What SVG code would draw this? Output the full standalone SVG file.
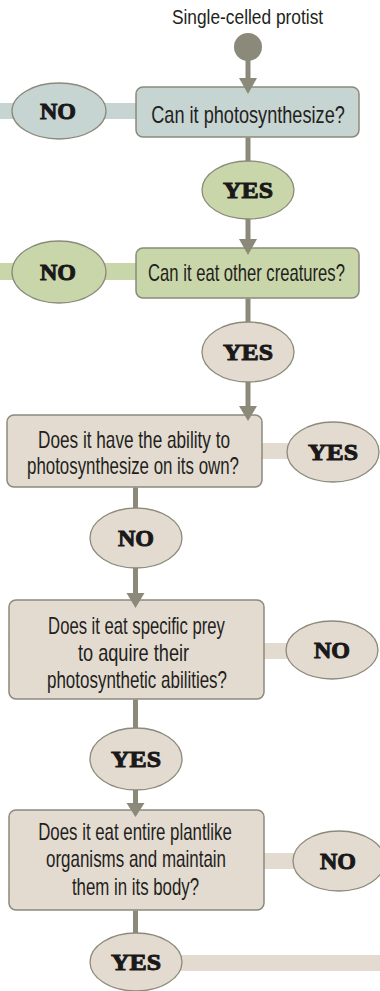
<svg xmlns="http://www.w3.org/2000/svg" width="380" height="991" viewBox="0 0 380 991">
<style>
.bg{fill:#ffffff}
.blue{fill:#c6d4d2}
.green{fill:#c9d6aa}
.beige{fill:#e3dbd0}
.box{stroke:#8b8a7b;stroke-width:1.5}
.ell{stroke:#8b8a7b;stroke-width:1.3}
.line{stroke:#8b8979;stroke-width:5;fill:none}
.head{fill:#8b8979}
.q{font-family:"Liberation Sans",Arial,sans-serif;font-size:23px;fill:#231f20;text-anchor:middle}
.t{font-size:21px}
.a{font-family:"Liberation Serif","Times New Roman",serif;font-weight:bold;font-size:24px;fill:#1a1818;stroke:#1a1818;stroke-width:1;text-anchor:middle}
</style>
<rect class="bg" x="0" y="0" width="380" height="991"/>
<g id="connector-bands">
<rect class="blue" x="0" y="103" width="138" height="16"/>
<rect class="green" x="0" y="263" width="138" height="17"/>
<rect class="beige" x="260" y="443" width="40" height="16"/>
<rect class="beige" x="262" y="643" width="40" height="16"/>
<rect class="beige" x="262" y="853" width="40" height="16"/>
<rect class="beige" x="170" y="955" width="210" height="16"/>
</g>
<g id="start">
<text class="q t" transform="translate(247.5,24) scale(0.8,1)" textLength="189" lengthAdjust="spacingAndGlyphs">Single-celled protist</text>
<circle cx="248" cy="47" r="14" fill="#8b8979"/>
</g>
<g id="q1">
<rect class="blue box" x="136" y="87" width="223" height="50" rx="7"/>
<text class="q" transform="translate(248,123) scale(0.8,1)" textLength="242" lengthAdjust="spacingAndGlyphs">Can it photosynthesize?</text>
</g>
<g id="no1">
<ellipse class="blue ell" cx="59" cy="111" rx="47" ry="28"/>
<text class="a" x="58" y="119">NO</text>
</g>
<g id="yes1">
<ellipse class="green ell" cx="248" cy="190" rx="46" ry="29"/>
<text class="a" x="248" y="198" textLength="50" lengthAdjust="spacingAndGlyphs">YES</text>
</g>
<g id="q2">
<rect class="green box" x="136" y="248" width="223" height="50" rx="7"/>
<text class="q" transform="translate(246.5,281) scale(0.8,1)" textLength="246" lengthAdjust="spacingAndGlyphs">Can it eat other creatures?</text>
</g>
<g id="no2">
<ellipse class="green ell" cx="59" cy="272" rx="47" ry="31"/>
<text class="a" x="58" y="280">NO</text>
</g>
<g id="yes2">
<ellipse class="beige ell" cx="248" cy="352" rx="46" ry="30"/>
<text class="a" x="248" y="360" textLength="50" lengthAdjust="spacingAndGlyphs">YES</text>
</g>
<g id="q3">
<rect class="beige box" x="7" y="415" width="255" height="72" rx="7"/>
<text class="q" transform="translate(134,448) scale(0.8,1)" textLength="240" lengthAdjust="spacingAndGlyphs">Does it have the ability to</text>
<text class="q" transform="translate(133,474) scale(0.8,1)" textLength="265" lengthAdjust="spacingAndGlyphs">photosynthesize on its own?</text>
</g>
<g id="yes3">
<ellipse class="beige ell" cx="333" cy="452" rx="46" ry="30"/>
<text class="a" x="333" y="460" textLength="50" lengthAdjust="spacingAndGlyphs">YES</text>
</g>
<g id="no3">
<ellipse class="beige ell" cx="136" cy="538" rx="46" ry="30"/>
<text class="a" x="136" y="546">NO</text>
</g>
<g id="q4">
<rect class="beige box" x="9" y="600" width="255" height="99" rx="7"/>
<text class="q" transform="translate(136.5,634) scale(0.8,1)" textLength="221" lengthAdjust="spacingAndGlyphs">Does it eat specific prey</text>
<text class="q" transform="translate(133.5,661) scale(0.8,1)" textLength="139" lengthAdjust="spacingAndGlyphs">to aquire their</text>
<text class="q" transform="translate(137,688) scale(0.8,1)" textLength="225" lengthAdjust="spacingAndGlyphs">photosynthetic abilities?</text>
</g>
<g id="no4">
<ellipse class="beige ell" cx="332" cy="650" rx="46" ry="29"/>
<text class="a" x="332" y="658">NO</text>
</g>
<g id="yes4">
<ellipse class="beige ell" cx="136" cy="759" rx="46" ry="31"/>
<text class="a" x="136" y="767" textLength="50" lengthAdjust="spacingAndGlyphs">YES</text>
</g>
<g id="q5">
<rect class="beige box" x="9" y="810" width="255" height="100" rx="7"/>
<text class="q" transform="translate(135,840) scale(0.8,1)" textLength="242" lengthAdjust="spacingAndGlyphs">Does it eat entire plantlike</text>
<text class="q" transform="translate(136,867) scale(0.8,1)" textLength="225" lengthAdjust="spacingAndGlyphs">organisms and maintain</text>
<text class="q" transform="translate(135.5,895) scale(0.8,1)" textLength="159" lengthAdjust="spacingAndGlyphs">them in its body?</text>
</g>
<g id="no5">
<ellipse class="beige ell" cx="339" cy="861" rx="46" ry="30"/>
<text class="a" x="338" y="869">NO</text>
</g>
<g id="yes5">
<ellipse class="beige ell" cx="136" cy="962" rx="46" ry="29"/>
<text class="a" x="136" y="970" textLength="50" lengthAdjust="spacingAndGlyphs">YES</text>
</g>
<g id="connectors">
<line class="line" x1="248" y1="58" x2="248" y2="80"/>
<polygon class="head" points="239,78 257,78 248,94"/>
<line class="line" x1="248" y1="137.5" x2="248" y2="161"/>
<line class="line" x1="248" y1="219" x2="248" y2="241"/>
<polygon class="head" points="239,239 257,239 248,255"/>
<line class="line" x1="248" y1="298.5" x2="248" y2="322"/>
<line class="line" x1="248" y1="382" x2="248" y2="408"/>
<polygon class="head" points="239,406 257,406 248,421"/>
<line class="line" x1="135.5" y1="487.5" x2="135.5" y2="508"/>
<line class="line" x1="135.5" y1="568" x2="135.5" y2="595"/>
<polygon class="head" points="126.5,593 144.5,593 135.5,608"/>
<line class="line" x1="135.5" y1="699.5" x2="135.5" y2="728"/>
<line class="line" x1="135.5" y1="790" x2="135.5" y2="805"/>
<polygon class="head" points="126.5,803 144.5,803 135.5,817"/>
<line class="line" x1="135.5" y1="910.5" x2="135.5" y2="933"/>
</g>
</svg>
